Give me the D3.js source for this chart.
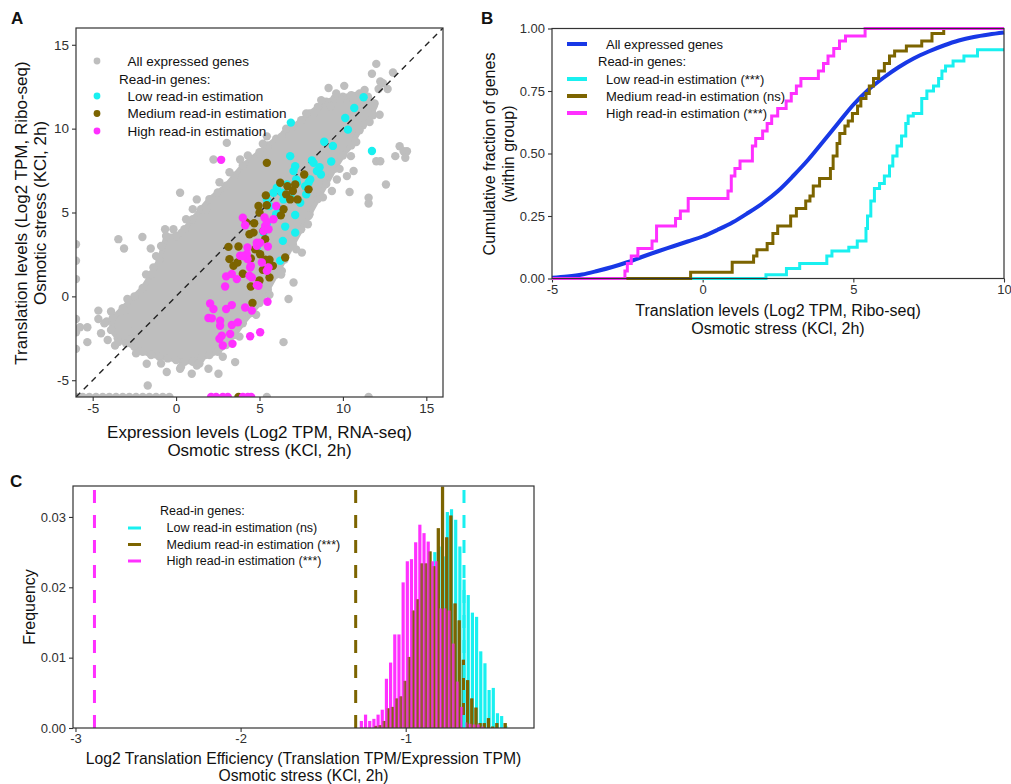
<!DOCTYPE html>
<html><head><meta charset="utf-8">
<script src="https://cdn.jsdelivr.net/npm/d3@7"></script>
<style>
body{margin:0;background:#fff;}
text{font-family:"Liberation Sans",Arial,Helvetica,sans-serif;}
</style></head><body>
<svg id="chart" width="1011" height="784"></svg>
<script>
// ---------------- DATA ----------------
// Panel A: translation vs expression (log2 TPM)
const cloudOutline = [
[-3.8,-1.3],[-3.2,-0.7],[-2.5,0.0],[-2.0,0.5],[-1.5,1.3],[-1.0,2.2],[-0.6,3.6],[0.0,3.6],[0.5,4.0],[1.0,4.6],[1.5,5.2],[2.0,5.8],[2.5,6.2],[3.0,6.6],[3.5,7.2],[4.0,7.8],[4.5,8.2],[5.0,8.6],[5.5,9.0],[6.0,9.4],[6.5,9.7],[7.0,10.1],[7.5,10.5],[8.0,10.9],[8.5,11.3],[9.0,11.6],[9.5,11.8],[10.0,11.9],[10.5,12.0],[11.0,12.1],[11.5,11.9],[11.9,11.5],
[11.8,10.8],[11.2,10.2],[11.0,9.9],[10.5,9.0],[10.0,8.4],[9.5,7.6],[9.0,6.7],[8.5,5.8],[8.0,4.9],[7.5,4.0],[7.0,3.1],[6.5,2.2],[6.0,1.3],[5.5,0.4],[5.0,-0.4],[4.5,-1.0],[4.0,-1.6],[3.5,-2.3],[3.0,-2.9],[2.5,-3.3],[2.0,-3.5],[1.5,-3.7],[1.0,-3.9],[0.5,-3.9],[0.0,-3.8],[-0.5,-3.7],[-1.0,-3.6],[-1.5,-3.5],[-2.0,-3.3],[-2.5,-3.0],[-3.0,-2.8],[-3.5,-2.5],[-3.9,-2.0]
];
const grayPoints = [
[12.0,13.86],[13.0,13.35],[11.74,13.27],[12.24,12.81],[12.4,12.71],[12.14,12.36],[12.68,12.36],[9.14,12.42],[10.08,12.55],[10.64,11.72],[11.84,11.33],[12.2,10.83],[9.84,11.72],[9.24,11.33],[8.24,10.93],
[13.4,8.95],[13.64,8.65],[13.84,8.65],[13.14,8.36],[13.74,8.26],[12.0,8.06],[12.24,8.06],[12.58,6.67],[11.54,5.88],[11.54,5.54],[10.4,6.22],[10.24,7.17],[10.64,7.47],[10.48,8.36],[9.34,6.28],
[7.04,0.83],[6.74,-0.16],[6.44,-2.73],[6.34,1.52],[7.54,2.61],[7.94,4.79],[8.64,5.98],[9.64,6.97],[3.04,9.15],[3.84,8.16],[1.24,5.78],[1.84,5.19],[0.24,6.18],[-0.66,4.0],[-0.16,4.0],[0.34,3.8],
[-2.02,3.54],[-3.46,3.41],[-3.12,2.85],[-1.52,2.85],[-1.36,1.72],[5.44,9.54],[6.34,9.54],[2.24,8.16],[-5.76,-1.84],[-5.32,-1.84],[-5.32,-2.73],[-4.66,-0.85],[-4.66,-1.35],[-4.16,-1.5],
[-3.46,-2.73],[-3.66,-2.93],[-2.92,-0.16],[-3.06,-0.85],[-2.76,-2.1],[-1.76,-4.02],[-1.7,-5.31],[0.94,-4.61],[1.94,-4.32],[2.54,-4.61],[1.24,-4.12],[3.54,-3.92],[-0.56,-4.51],[0.24,-4.32],
[-4.3,-1.6],[-4.5,-2.2],[-3.9,-0.9],[-4.1,-2.6],
[-1.8,1.3],[-1.2,2.4],[-0.9,3.0],[0.6,4.6],[1.0,5.2],[2.6,6.8],[3.2,7.4],[4.3,8.4],[5.2,9.1],[6.6,10.0],[7.8,10.9],[8.7,11.7],[9.6,12.1],[11.3,12.3],
[0.3,-4.2],[1.4,-4.0],[-0.9,-4.0],[-2.4,-3.4],[2.8,-3.6],[3.8,-2.4],[4.8,-1.1],[5.6,0.1],[6.3,1.3],[7.2,2.8],[7.9,4.3],[8.8,5.9],[9.8,7.6],[10.8,9.2],[11.6,10.4],
[-6,3.11],[-6,2.12],[-6,1.03],[-6,-1.35],[-6,-2.14],[-6,-3.13],
[-6,-6],[-5.6,-6],[-5.2,-6],[-4.8,-6],[-4.4,-6],[-4.0,-6],[-3.6,-6],[-3.2,-6],[-2.8,-6],[-2.4,-6],[-2.0,-6],[-1.6,-6],[-1.2,-6],[-0.8,-6],[-0.4,-6],[5.44,-6],[11.54,-6]
];
const lowPoints = [
[11.24,11.87],[10.68,11.23],[10.14,10.63],[10.3,9.94],[6.88,10.36],[8.88,9.22],[9.4,8.97],[11.74,8.67],[9.3,8.04],[8.14,8.1],[6.84,8.36],[7.14,7.76],[7.04,7.47],[8.24,7.96],[8.44,7.47],[8.68,7.27],[8.04,6.97],[7.94,6.77],[7.24,6.77],[6.64,6.67],[6.04,6.48],[6.34,6.18],[5.84,6.18],[5.44,5.78],[6.44,5.78],[7.44,5.58],[6.84,5.98],[7.8,6.08],[5.6,5.39],[7.14,4.85],[6.54,4.16],[7.14,3.8],[6.4,3.31],[5.44,4.3],[6.24,2.12],[5.24,3.8],[4.84,2.91],[7.74,6.57],[7.2,6.97],[8.6,7.7],[6.2,5.2],[6.0,4.9]
];
const mediumPoints = [
[5.44,7.96],[7.68,7.27],[7.94,6.38],[6.24,6.77],[6.68,6.57],[7.14,6.67],[7.0,6.28],[6.6,6.08],[7.28,5.78],[6.84,5.78],[5.38,6.02],[4.94,5.39],[5.44,5.43],[6.44,5.19],[6.28,4.83],[5.0,4.99],[4.2,4.4],[4.68,4.36],[4.64,3.8],[5.24,3.9],[5.34,3.41],[4.4,3.7],[3.14,2.95],[3.74,2.97],[4.74,2.81],[5.04,2.51],[5.34,2.18],[5.8,1.82],[5.6,2.18],[3.2,2.22],[3.44,1.82],[3.68,2.02],[4.48,2.26],[5.2,1.58],[5.6,1.13],[6.54,2.32],[4.48,0.59],[4.58,-0.4],[4.0,1.35],[5.0,0.95],[3.74,-6]
];
const highPoints = [
[2.7,8.14],[6.0,5.39],[4.0,4.69],[4.14,4.24],[5.3,4.7],[5.34,4.2],[5.44,4.45],[5.84,4.6],[5.24,3.9],[5.54,4.0],[4.28,2.91],[4.84,3.01],[5.5,2.97],[3.84,2.42],[4.28,2.22],[4.48,1.82],[5.14,2.02],[5.44,1.52],[3.0,1.19],[3.34,1.33],[3.64,1.03],[2.94,0.59],[4.4,1.23],[4.54,1.13],[4.84,0.67],[4.94,0.63],[5.54,1.72],[5.48,-0.32],[2.04,-0.42],[2.24,-0.75],[3.0,-0.75],[3.34,-0.52],[4.14,-0.66],[4.54,-0.85],[1.94,-1.29],[2.14,-1.31],[2.64,-1.45],[2.64,-1.75],[3.34,-1.71],[3.7,-1.55],[2.74,-2.34],[3.24,-2.24],[4.44,-2.38],[5.04,-2.14],[2.8,-2.93],[3.38,-2.83],[2.6,-2.53],[4.84,3.2],[5.04,3.2],[4.24,2.51],[4.0,2.41],[4.44,1.72],
[2.1,-6],[2.4,-6],[2.8,-6],[3.1,-6],[4.0,-6],[4.3,-6],[4.5,-6]
];
const diagonal = [[-6,-6],[16,16]];
const ticksA = [-5,0,5,10,15];
const legendA = ["All expressed genes","Read-in genes:","Low read-in estimation","Medium read-in estimation","High read-in estimation"];

// Panel B: cumulative fractions
const allGenesCdf = [[-5,0.003],[-4.5,0.008],[-4,0.016],[-3.5,0.03],[-3,0.046],[-2.5,0.065],[-2,0.087],[-1.5,0.108],[-1,0.128],[-0.5,0.148],[0,0.168],[0.5,0.195],[1,0.225],[1.5,0.262],[2,0.302],[2.5,0.35],[3,0.41],[3.5,0.475],[4,0.548],[4.5,0.622],[5,0.695],[5.5,0.755],[6,0.803],[6.5,0.845],[7,0.88],[7.5,0.908],[8,0.932],[8.5,0.952],[9,0.966],[9.5,0.976],[10,0.984]];
const lowCdf = [[2.10,0.015],[2.78,0.04],[3.22,0.06],[4.12,0.09],[4.29,0.11],[4.85,0.125],[5.13,0.15],[5.42,0.20],[5.47,0.25],[5.58,0.31],[5.70,0.36],[5.87,0.38],[6.03,0.41],[6.20,0.45],[6.31,0.49],[6.45,0.53],[6.60,0.57],[6.74,0.62],[6.82,0.65],[6.99,0.66],[7.27,0.72],[7.44,0.75],[7.66,0.77],[7.83,0.80],[7.94,0.83],[8.06,0.85],[8.31,0.87],[8.67,0.89],[9.12,0.915]];
const mediumCdf = [[-0.40,0.025],[0.98,0.065],[1.69,0.09],[1.80,0.115],[2.14,0.14],[2.33,0.18],[2.49,0.21],[2.92,0.25],[3.11,0.28],[3.42,0.31],[3.56,0.33],[3.67,0.37],[3.88,0.40],[4.24,0.44],[4.33,0.49],[4.46,0.54],[4.55,0.58],[4.72,0.61],[4.83,0.63],[4.97,0.66],[5.14,0.69],[5.25,0.72],[5.42,0.74],[5.53,0.77],[5.67,0.80],[5.84,0.83],[6.03,0.86],[6.20,0.89],[6.37,0.91],[6.76,0.93],[7.27,0.95],[7.61,0.98],[8.0,1.0]];
const highCdf = [[-2.58,0.03],[-2.5,0.06],[-2.37,0.09],[-2.15,0.12],[-1.68,0.15],[-1.53,0.21],[-0.90,0.24],[-0.74,0.27],[-0.48,0.32],[0.84,0.35],[0.95,0.41],[1.07,0.44],[1.24,0.47],[1.65,0.53],[1.76,0.56],[1.99,0.59],[2.14,0.62],[2.29,0.65],[2.49,0.68],[2.77,0.71],[2.94,0.74],[3.11,0.77],[3.26,0.80],[3.84,0.83],[4.01,0.86],[4.16,0.89],[4.35,0.92],[4.54,0.95],[4.74,0.97],[5.39,1.0]];
const ticksBx = [-5,0,5,10];
const ticksBy = [0,0.25,0.5,0.75,1];
const legendB = ["All expressed genes","Read-in genes:","Low read-in estimation (***)","Medium read-in estimation (ns)","High read-in estimation (***)"];

// Panel C: histograms of log2 translation efficiency
const binWidthC = 0.0253;
const lowBinStart = -1.1273, mediumBinStart = -1.1818, highBinStart = -1.2685;
const lowFreq = [0.0002,0.0003,0.0005,0.0008,0.0015,0.0030,0.0050,0.0080,0.0110,0.0150,0.0185,0.0215,0.0250,0.0258,0.0244,0.0307,0.0311,0.0296,0.0258,0.0211,0.0189,0.0164,0.0158,0.0109,0.0092,0.0054,0.0057,0.0021,0.0017,0.0003];
const mediumFreq = [0.0003,0.0004,0.0010,0.0028,0.0030,0.0042,0.0045,0.0067,0.0101,0.0167,0.0183,0.0234,0.0234,0.0251,0.0230,0.0284,0.0343,0.0271,0.0302,0.0177,0.0153,0.0097,0.0068,0.0042,0.0029,0.0007,0.0007,0.0014,0.0002,0.0007,0.0000,0.0007];
const highFreq = [0.0010,0.0019,0.0010,0.0013,0.0019,0.0026,0.0070,0.0093,0.0133,0.0133,0.0207,0.0237,0.0240,0.0264,0.0289,0.0277,0.0265,0.0237,0.0237,0.0170,0.0170,0.0167,0.0120,0.0066,0.0030,0.0008,0.0006,0.0005,0.0005,0.0002];
const observedTE = {low:-0.647, medium:-1.303, high:-2.885};
const ticksCx = [-3,-2,-1];
const ticksCy = [0,0.01,0.02,0.03];
const legendC = ["Read-in genes:","Low read-in estimation (ns)","Medium read-in estimation (***)","High read-in estimation (***)"];

// ---------------- STYLE ----------------
const COL = {gray:"#bebebe", low:"#19f0f0", medium:"#7c6400", high:"#ff30ff", all:"#1838e6"};
const svg = d3.select("#chart");
svg.append("rect").attr("width",1011).attr("height",784).attr("fill","#fff");

function axes(xs, ys, xt, yt, fx, fy, fs){
  const [x0,x1]=xs.range(), [yb,yt0]=ys.range();
  const gx = svg.append("g").attr("transform",`translate(0,${yb})`)
    .call(d3.axisBottom(xs).tickValues(xt).tickFormat(fx).tickSize(4).tickPadding(2));
  const gy = svg.append("g").attr("transform",`translate(${x0},0)`)
    .call(d3.axisLeft(ys).tickValues(yt).tickFormat(fy).tickSize(4).tickPadding(3));
  [gx,gy].forEach(g=>{
    g.select(".domain").remove();
    g.selectAll("line").attr("stroke","#333").attr("stroke-width",1.1);
    g.selectAll("text").attr("fill","#303030").style("font-size",fs+"px");
  });
}
function frame(xs, ys){
  const [x0,x1]=xs.range(), [yb,yt0]=ys.range();
  svg.append("rect").attr("x",x0).attr("y",yt0).attr("width",x1-x0).attr("height",yb-yt0)
    .attr("fill","none").attr("stroke","#333").attr("stroke-width",1.2);
}
function clip(id, xs, ys, pad){
  const [x0,x1]=xs.range(), [yb,yt0]=ys.range();
  svg.append("clipPath").attr("id",id).append("rect")
    .attr("x",x0-pad).attr("y",yt0-pad).attr("width",x1-x0+2*pad).attr("height",yb-yt0+2*pad);
}
function label(txt,x,y,size,opts={}){
  const t = svg.append("text").attr("x",x).attr("y",y).attr("dy","0.35em").text(txt)
    .style("font-size",size+"px").attr("fill",opts.fill||"#111")
    .attr("text-anchor",opts.anchor||"start");
  if(opts.rotate) t.attr("transform",`rotate(-90,${x},${y})`);
  if(opts.bold) t.attr("font-weight","bold");
  return t;
}
const intFmt = d=>String(d);

// ---------------- PANEL A ----------------
const xA = d3.scaleLinear().domain([-6,16]).range([76,443]);
const yA = d3.scaleLinear().domain([-6,16]).range([397,28]);
axes(xA,yA,ticksA,ticksA,intFmt,intFmt,13.5);
clip("clipA",xA,yA,0);
const gA = svg.append("g").attr("clip-path","url(#clipA)");
gA.append("path").datum(cloudOutline)
  .attr("d", d3.line().x(d=>xA(d[0])).y(d=>yA(d[1])).curve(d3.curveLinearClosed))
  .attr("fill",COL.gray).attr("stroke",COL.gray).attr("stroke-width",5).attr("stroke-linejoin","round");
const rA = 4.2;
function dots(data,col){
  gA.append("g").selectAll("circle").data(data).join("circle")
    .attr("cx",d=>xA(d[0])).attr("cy",d=>yA(d[1])).attr("r",rA).attr("fill",col);
}
dots(cloudOutline,COL.gray);
dots(grayPoints,COL.gray);
gA.append("path").datum(diagonal)
  .attr("d", d3.line().x(d=>xA(d[0])).y(d=>yA(d[1])))
  .attr("stroke","#222").attr("stroke-width",1.4).attr("stroke-dasharray","6,5").attr("fill","none");
dots(lowPoints,COL.low);
dots(mediumPoints,COL.medium);
dots(highPoints,COL.high);
frame(xA,yA);
// legend A
const legAy=[61,79,96,113.5,131], legAcol=[COL.gray,null,COL.low,COL.medium,COL.high];
legendA.forEach((t,i)=>{
  if(legAcol[i]) svg.append("circle").attr("cx",97).attr("cy",legAy[i]).attr("r",3.4).attr("fill",legAcol[i]);
  label(t, i===1?119:127.5, legAy[i], 13.5);
});
label("Expression levels (Log2 TPM, RNA-seq)",259.5,432,17,{anchor:"middle"});
label("Osmotic stress (KCl, 2h)",259.5,450,17,{anchor:"middle"});
label("Translation levels (Log2 TPM, Ribo-seq)",21,213,17,{anchor:"middle",rotate:true});
label("Osmotic stress (KCl, 2h)",40,213,17,{anchor:"middle",rotate:true});
label("A",11,18,17,{bold:true});

// ---------------- PANEL B ----------------
const xB = d3.scaleLinear().domain([-5,10]).range([552,1004]);
const yB = d3.scaleLinear().domain([0,1]).range([278.5,28.5]);
axes(xB,yB,ticksBx,ticksBy,intFmt,d3.format(".2f"),13);
clip("clipB",xB,yB,2);
const gB = svg.append("g").attr("clip-path","url(#clipB)");
const lineB = d3.line().x(d=>xB(d[0])).y(d=>yB(d[1]));
gB.append("path").datum(allGenesCdf).attr("d",lineB.curve(d3.curveMonotoneX))
  .attr("fill","none").attr("stroke",COL.all).attr("stroke-width",4);
const stepLine = d3.line().x(d=>xB(d[0])).y(d=>yB(d[1])).curve(d3.curveStepAfter);
[[lowCdf,COL.low],[mediumCdf,COL.medium],[highCdf,COL.high]].forEach(([c,col])=>{
  const pts = [[-5,0]].concat(c).concat([[10,c[c.length-1][1]]]);
  gB.append("path").datum(pts).attr("d",stepLine)
    .attr("fill","none").attr("stroke",col).attr("stroke-width",3);
});
frame(xB,yB);
const legBy=[44,61,79,96,113], legBcol=[COL.all,null,COL.low,COL.medium,COL.high];
legendB.forEach((t,i)=>{
  if(legBcol[i]) svg.append("line").attr("x1",567).attr("x2",587).attr("y1",legBy[i]).attr("y2",legBy[i])
    .attr("stroke",legBcol[i]).attr("stroke-width",4);
  label(t, i===1?598:606, legBy[i], 13);
});
label("Translation levels (Log2 TPM, Ribo-seq)",778,310,16,{anchor:"middle"});
label("Osmotic stress (KCl, 2h)",778,328,16,{anchor:"middle"});
label("Cumulative fraction of genes",489,154,16,{anchor:"middle",rotate:true});
label("(within group)",508,154,16,{anchor:"middle",rotate:true});
label("B",481,18,17,{bold:true});

// ---------------- PANEL C ----------------
const xC = d3.scaleLinear().domain([-3.015,-0.223]).range([73,534]);
const yC = d3.scaleLinear().domain([0,0.0344]).range([728,486]);
axes(xC,yC,ticksCx,ticksCy,intFmt,d3.format(".2f"),13);
clip("clipC",xC,yC,0);
const gC = svg.append("g").attr("clip-path","url(#clipC)");
const bwPx = xC(binWidthC)-xC(0);
function hist(freqs,start,col,op){
  gC.append("g").selectAll("rect").data(freqs).join("rect")
    .attr("x",(d,i)=>xC(start+i*binWidthC)-bwPx/2+0.5)
    .attr("width",bwPx-1)
    .attr("y",d=>yC(d)).attr("height",d=>yC(0)-yC(d))
    .attr("fill",col).attr("fill-opacity",op);
}
// semi-transparent overlap: the medium layer is laid again at half opacity over the high layer
hist(lowFreq,lowBinStart,COL.low,1);
hist(mediumFreq,mediumBinStart,COL.medium,1);
hist(highFreq,highBinStart,COL.high,1);
hist(mediumFreq,mediumBinStart,COL.medium,0.5);
[["high",COL.high],["medium",COL.medium],["low",COL.low]].forEach(([k,col])=>{
  gC.append("line").attr("x1",xC(observedTE[k])).attr("x2",xC(observedTE[k]))
    .attr("y1",yC(0)).attr("y2",yC(0.0344))
    .attr("stroke",col).attr("stroke-width",3).attr("stroke-dasharray","13,12");
});
frame(xC,yC);
const legCy=[511,528,544.5,561], legCcol=[null,COL.low,COL.medium,COL.high];
legendC.forEach((t,i)=>{
  if(legCcol[i]) svg.append("line").attr("x1",128).attr("x2",141).attr("y1",legCy[i]).attr("y2",legCy[i])
    .attr("stroke",legCcol[i]).attr("stroke-width",3);
  label(t, i===0?160:166.5, legCy[i], 12.5);
});
label("Log2 Translation Efficiency (Translation TPM/Expression TPM)",303.5,759,15.7,{anchor:"middle"});
label("Osmotic stress (KCl, 2h)",303.5,776,15.7,{anchor:"middle"});
label("Frequency",29,607,16,{anchor:"middle",rotate:true});
label("C",10,481,17,{bold:true});
</script>
</body></html>
